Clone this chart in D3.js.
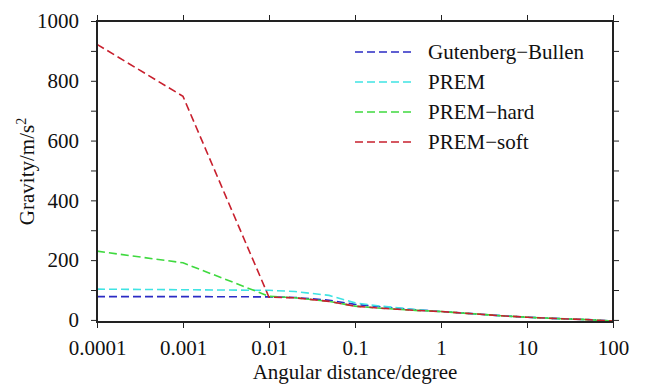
<!DOCTYPE html>
<html>
<head>
<meta charset="utf-8">
<script src="https://cdn.jsdelivr.net/npm/d3@7"></script>
<style>
  body { margin: 0; background: #fff; }
  text { font-family: "Liberation Serif", "DejaVu Serif", serif; fill: #111; }
</style>
</head>
<body>
<svg id="chart" width="646" height="387"></svg>
<script>
// angular distance (degree), sampled on a log axis
const distances = [0.0001, 0.001, 0.01, 0.02, 0.05, 0.1, 0.2, 0.5, 1, 2, 5, 10, 20, 50, 100];

// gravity values (m/s^2)
const gutenbergBullen = [78, 78, 77, 75, 66, 52, 44, 34, 28, 22, 14, 9, 5, 1, -4];
const prem            = [103, 101, 99, 95, 82, 57, 46, 35, 28, 22, 14, 9, 5, 1, -4];
const premHard        = [230, 191, 79, 74, 62, 46, 39, 32, 28, 22, 14, 9, 5, 1, -4];
const premSoft        = [922, 748, 76, 74, 62, 46, 39, 32, 28, 22, 14, 9, 5, 1, -4];

const seriesNames  = ["Gutenberg\u2212Bullen", "PREM", "PREM\u2212hard", "PREM\u2212soft"];
const seriesValues = [gutenbergBullen, prem, premHard, premSoft];
const seriesColors = ["#2b2bc4", "#3fe3e3", "#3fd93f", "#c8202e"];

const xTicks = [0.0001, 0.001, 0.01, 0.1, 1, 10, 100];
const xTickLabels = ["0.0001", "0.001", "0.01", "0.1", "1", "10", "100"];
const yTicks = d3.range(0, 1001, 100);
const yLabelTicks = d3.range(0, 1001, 200);

const margin = { top: 21, right: 33, bottom: 65, left: 97 };
const width = 646 - margin.left - margin.right;
const height = 387 - margin.top - margin.bottom;

const svg = d3.select("#chart")
  .append("g")
  .attr("transform", "translate(" + margin.left + "," + margin.top + ")");

const x = d3.scaleLog()
  .domain([0.0001, 100])
  .range([0, width]);

const y = d3.scaleLinear()
  .domain([-7, 1000])
  .range([height, 0]);

// lines
const line = d3.line()
  .x((d, i) => x(distances[i]))
  .y(d => y(d));

seriesValues.forEach((vals, i) => {
  svg.append("path")
    .datum(vals)
    .attr("d", line)
    .attr("fill", "none")
    .attr("stroke", seriesColors[i])
    .attr("stroke-width", 1.6)
    .attr("stroke-dasharray", "8,4");
});

// axes: ticks outward on all four sides
const styleAxis = g => {
  g.select(".domain").remove();
  g.selectAll(".tick line").attr("stroke", "#222").attr("stroke-width", 1);
  g.selectAll(".tick text")
    .style("font-family", "'Liberation Serif', serif")
    .style("font-size", "21px")
    .attr("fill", "#111");
};

svg.append("g")
  .attr("transform", "translate(0," + height + ")")
  .call(d3.axisBottom(x).tickValues(xTicks).tickFormat((d, i) => xTickLabels[i]).tickSize(6).tickPadding(12))
  .call(styleAxis);

svg.append("g")
  .call(d3.axisTop(x).tickValues(xTicks).tickFormat("").tickSize(6))
  .call(styleAxis);

svg.append("g")
  .call(d3.axisLeft(y).tickValues(yTicks)
    .tickFormat(d => yLabelTicks.includes(d) ? d : "").tickSize(6).tickPadding(12))
  .call(styleAxis);

svg.append("g")
  .attr("transform", "translate(" + width + ",0)")
  .call(d3.axisRight(y).tickValues(yTicks).tickFormat("").tickSize(6))
  .call(styleAxis);

// frame
svg.append("rect")
  .attr("width", width)
  .attr("height", height)
  .attr("fill", "none")
  .attr("stroke", "#222")
  .attr("stroke-width", 2);

// axis titles
svg.append("text")
  .attr("x", width / 2)
  .attr("y", height + 57)
  .attr("text-anchor", "middle")
  .style("font-size", "21px")
  .text("Angular distance/degree");

const yTitle = svg.append("text")
  .attr("transform", "translate(-63," + (height / 2) + ") rotate(-90)")
  .attr("text-anchor", "middle")
  .style("font-size", "21px");
yTitle.append("tspan").text("Gravity/m/s");
yTitle.append("tspan").attr("dy", -8).style("font-size", "14px").text("2");

// legend
const legend = svg.append("g")
  .attr("transform", "translate(" + (355 - margin.left) + "," + (52 - margin.top) + ")");

seriesNames.forEach((name, i) => {
  const row = legend.append("g").attr("transform", "translate(0," + (i * 30) + ")");
  row.append("line")
    .attr("x1", 0).attr("x2", 60)
    .attr("stroke", seriesColors[i])
    .attr("stroke-width", 1.6)
    .attr("stroke-dasharray", "8,4");
  row.append("text")
    .attr("x", 73)
    .attr("dy", "0.35em")
    .style("font-size", "21px")
    .text(name);
});
</script>
</body>
</html>
